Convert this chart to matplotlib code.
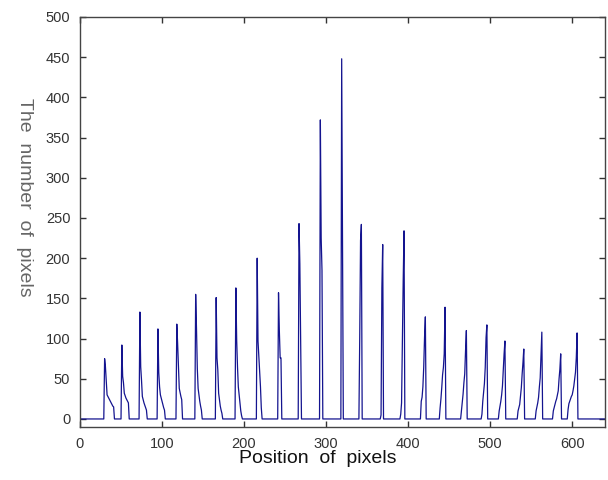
import numpy as np
import matplotlib.pyplot as plt

# Posición del pico (x donde está la espiga) y perfil de valores en x consecutivos
# picos izquierdos: la espiga va primero; picos derechos: la espiga va al final
spike_x = [30, 51, 73, 95, 118, 141, 166, 190, 216, 242, 267, 293, 319,
           343, 369, 395, 421, 445, 471, 496, 518, 541, 563, 586, 606]

profiles = [
    [75, 65, 48, 30, 28, 26, 24, 22, 20, 18, 16, 15],
    [92, 53, 45, 32, 29, 26, 24, 22, 20],
    [133, 65, 48, 28, 24, 20, 17, 14, 11],
    [112, 58, 40, 30, 26, 22, 18, 14, 11],
    [118, 94, 65, 38, 33, 28, 24],
    [155, 113, 63, 38, 30, 22, 16, 11],
    [151, 76, 61, 32, 24, 16, 11, 7],
    [163, 98, 65, 40, 30, 20, 10, 4],
    [200, 97, 78, 60, 40, 14],
    [157, 110, 76, 76],
    [243, 193, 100],
    [372, 225, 185],
    [448, 225],
    [101, 222, 242],
    [5, 163, 217],
    [6, 20, 97, 172, 234],
    [22, 27, 40, 64, 101, 127],
    [14, 25, 39, 55, 64, 81, 139],
    [10, 20, 31, 45, 56, 85, 110],
    [6, 22, 33, 44, 64, 101, 117],
    [10, 16, 22, 30, 41, 62, 81, 97],
    [10, 14, 18, 28, 39, 56, 70, 87],
    [10, 15, 20, 27, 40, 51, 78, 108],
    [10, 14, 18, 22, 25, 30, 35, 50, 62, 81],
    [12, 19, 22, 25, 28, 30, 35, 41, 50, 58, 76, 107],
]
n_left = 13     # los primeros 13 picos tienen la espiga a la izquierda

width = 640
x = np.arange(width + 1)
y = np.zeros(width + 1)
for i, (sx, prof) in enumerate(zip(spike_x, profiles)):
    start = sx if i < n_left else sx - len(prof) + 1
    y[start:start + len(prof)] = prof

plt.rcParams['font.family'] = ['Liberation Sans', 'DejaVu Sans']

fig = plt.figure(figsize=(6.08, 4.8), dpi=100)
ax = fig.add_axes([80/608, 53/480, 525/608, 410/480])
ax.plot(x, y, color='#14148f', lw=0.9)

ax.set_xlim(0, 640)
ax.set_ylim(-10, 500)
ax.set_xticks(np.arange(0, 601, 100))
ax.set_yticks(np.arange(0, 501, 50))
ax.tick_params(direction='in', top=True, right=True, length=4, width=1,
               color='#333333', labelcolor='#333333', labelsize=10.5, pad=7)
for s in ax.spines.values():
    s.set_color('#444444')
    s.set_linewidth(1)

ax.set_xlabel('Position  of  pixels', fontsize=14, color='#111111')
ax.xaxis.set_label_coords(0.453, -0.055)
ax.set_ylabel('The  number  of  pixels', fontsize=14, color='#666666',
              rotation=270, va='center')
ax.yaxis.set_label_coords(-0.105, 0.56)

fig.savefig('out.png', dpi=100, facecolor='white')
